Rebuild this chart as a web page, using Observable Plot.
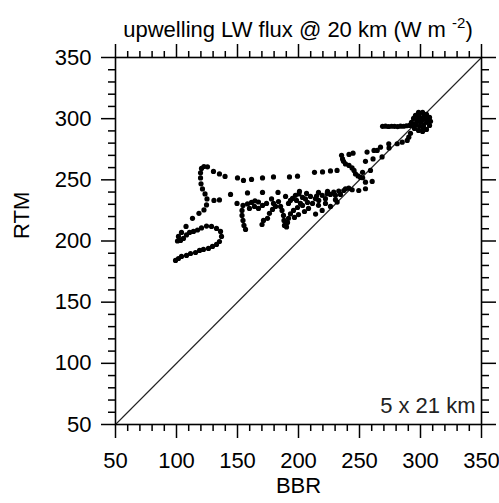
<!DOCTYPE html>
<html>
<head>
<meta charset="utf-8">
<script src="https://cdn.jsdelivr.net/npm/d3@7"></script>
<script src="https://cdn.jsdelivr.net/npm/@observablehq/plot@0.6"></script>
<style>
  html, body { margin: 0; padding: 0; background: #fff; }
  #wrap { position: relative; width: 499px; height: 503px; font-family: "Liberation Sans", Arial, sans-serif; }
  #title { position: absolute; left: 103px; width: 390px; top: 18px; text-align: center; font-size: 22px; line-height: 24px; color: #000; white-space: nowrap; }
  #title sup { font-size: 15px; vertical-align: 9px; line-height: 0; }
</style>
</head>
<body>
<div id="wrap">
  <div id="title">upwelling LW flux @ 20 km (W m <sup>-2</sup>)</div>
</div>
<script>
// BBR (x) and RTM (y) upwelling LW flux values, W m-2
const bbr = [
  99.2,101.6,104.1,108.2,111.5,115.6,118.9,122.1,126.2,129.5,132.8,135.2,136.9,136.1,132.8,128.7,124.6,120.5,117.2,113.9,110.7,108.2,105.7,103.3,100.8,
  101.6,104.1,107.8,113.1,118.4,122.5,124.6,125.0,123.4,121.3,120.1,119.7,119.7,120.5,122.5,125.4,130.3,135.2,139.8,150.0,154.9,161.5,170.5,179.5,192.6,199.2,213.1,219.7,226.2,231.6,
  130.7,135.2,144.3,149.6,158.2,170.5,183.2,200.8,214.8,
  154.5,153.7,153.7,154.5,155.3,156.6,158.2,161.5,164.3,167.2,163.9,159.8,171.3,170.1,177.9,179.5,181.2,178.7,176.2,174.6,183.6,185.3,186.5,187.7,188.1,188.5,193.4,195.1,197.5,200.4,203.3,205.7,207.4,203.3,199.2,195.9,193.4,191.8,191.0,190.2,
  167.2,170.5,173.8,189.4,191.8,198.4,201.6,209.8,211.5,208.2,204.9,200.0,196.7,206.6,216.4,222.1,226.2,223.8,
  214.0,216.4,219.4,213.9,216.6,222.1,230.3,231.7,219.4,223.5,226.2,230.3,234.4,228.9,233.0,237.1,238.5,241.2,244.0,249.4,254.9,254.9,260.4,252.6,
  235.3,236.1,236.9,238.5,241.4,243.9,245.5,246.7,248.8,250.8,241.4,244.7,256.2,261.9,254.9,261.1,268.5,274.2,252.5,259.0,
  264.5,267.2,274.0,280.9,285.0,289.1,290.4,291.8,
  268.9,271.3,273.8,276.3,278.7,281.2,283.6,286.1,288.5,291.0,
  292.6,294.3,295.9,298.4,301.7,304.9,307.4,308.2,307.4,304.9,301.7,298.4,295.1,293.5,296.8,300.0,303.3,304.9,302.5,299.2,300.8,297.6,
  300.2,299.0,303.1,296.1,305.6,302.2
];
const rtm = [
  184.1,185.7,187.4,188.2,189.8,190.6,192.3,193.1,193.9,195.6,197.2,199.6,203.7,207.8,210.3,211.9,212.2,210.7,209.0,207.8,207.0,205.0,202.1,200.5,200.0,
  203.7,207.0,211.9,218.5,222.6,225.4,229.5,234.4,238.5,242.6,246.7,251.6,255.7,259.3,260.9,260.6,256.9,254.8,252.8,251.6,249.5,250.3,251.6,252.4,252.4,253.0,256.1,256.5,257.3,257.7,
  233.2,233.6,238.1,230.7,239.3,239.7,239.7,240.5,236.8,
  229.1,225.0,220.9,216.8,212.7,209.5,230.3,231.5,232.8,231.9,228.3,226.6,216.8,213.5,234.4,230.7,228.3,225.8,222.6,218.5,232.3,228.3,225.0,220.9,216.8,212.7,233.2,234.8,237.3,238.5,235.6,234.4,231.5,229.1,227.4,225.0,222.1,218.5,215.2,211.5,
  226.6,229.1,230.7,236.4,230.7,233.2,230.7,236.4,230.7,226.6,224.1,221.6,219.3,238.9,239.7,230.7,228.3,240.6,
  222.0,229.2,225.0,234.6,233.2,234.6,233.8,231.8,237.3,238.7,238.1,237.3,238.1,240.0,240.8,241.3,242.7,243.2,241.9,241.3,242.7,248.1,248.7,251.7,
  270.0,267.1,265.1,263.0,261.8,259.7,257.7,254.8,253.2,252.0,270.8,271.8,272.7,274.0,265.1,267.1,268.7,276.1,256.1,257.7,
  274.0,276.7,279.5,279.5,280.8,282.2,284.9,288.0,
  293.7,293.9,293.6,293.8,293.7,293.5,293.9,293.8,294.2,294.5,
  297.0,300.2,302.7,305.1,305.1,303.5,301.0,297.8,294.5,291.2,289.6,290.4,292.0,294.5,297.0,300.2,300.2,297.0,294.5,293.7,297.8,299.4,
  297.2,302.0,302.8,295.3,300.1,292.4
];
const domainMin = 50, domainMax = 350;
const majorTicks = [50, 100, 150, 200, 250, 300, 350];
const minorTicks = d3.range(60, 350, 10).filter(v => v % 50 !== 0);
const oneToOne = [{x1: domainMin, y1: domainMin, x2: domainMax, y2: domainMax}];
const xLabel = "BBR", yLabel = "RTM", note = "5 x 21 km";

const points = bbr.map((b, i) => ({bbr: b, rtm: rtm[i]}));
const font = "Liberation Sans, Arial, sans-serif";
const blank = () => "";

const chart = Plot.plot({
  width: 499,
  height: 503,
  marginLeft: 115,
  marginRight: 18,
  marginTop: 57,
  marginBottom: 79,
  style: {fontFamily: font, background: "white", color: "black"},
  x: {domain: [domainMin, domainMax], label: null},
  y: {domain: [domainMin, domainMax], label: null},
  marks: [
    Plot.link(oneToOne, {x1: "x1", y1: "y1", x2: "x2", y2: "y2", stroke: "#222", strokeWidth: 1.1}),
    Plot.dot(points, {x: "bbr", y: "rtm", r: 2.6, fill: "black", stroke: null}),
    Plot.frame({stroke: "black", strokeWidth: 1.6}),
    Plot.axisX({ticks: majorTicks, anchor: "bottom", tickSize: 14, tickPadding: 14, fontSize: 22, strokeWidth: 1.5, label: null}),
    Plot.axisX({ticks: minorTicks, anchor: "bottom", tickSize: 7, tickFormat: blank, strokeWidth: 1.5, label: null}),
    Plot.axisX({ticks: majorTicks, anchor: "top", tickSize: 14, tickFormat: blank, strokeWidth: 1.5, label: null}),
    Plot.axisX({ticks: minorTicks, anchor: "top", tickSize: 7, tickFormat: blank, strokeWidth: 1.5, label: null}),
    Plot.axisY({ticks: majorTicks, anchor: "left", tickSize: 14, tickPadding: 10, fontSize: 22, strokeWidth: 1.5, label: null}),
    Plot.axisY({ticks: minorTicks, anchor: "left", tickSize: 7, tickFormat: blank, strokeWidth: 1.5, label: null}),
    Plot.axisY({ticks: majorTicks, anchor: "right", tickSize: 14, tickFormat: blank, strokeWidth: 1.5, label: null}),
    Plot.axisY({ticks: minorTicks, anchor: "right", tickSize: 7, tickFormat: blank, strokeWidth: 1.5, label: null}),
    Plot.text([xLabel], {frameAnchor: "bottom", text: d => d, dy: 68, fontSize: 22, fill: "black"}),
    Plot.text([yLabel], {frameAnchor: "left", text: d => d, dx: -94, dy: -2, rotate: -90, fontSize: 22, fill: "black"}),
    Plot.text([note], {frameAnchor: "bottom-right", text: d => d, dx: -6, dy: -12, textAnchor: "end", fontSize: 22, fill: "#222"})
  ]
});
chart.style.position = "absolute";
chart.style.left = "0";
chart.style.top = "0";
const wrap = document.getElementById("wrap");
wrap.insertBefore(chart, wrap.firstChild);
</script>
</body>
</html>
